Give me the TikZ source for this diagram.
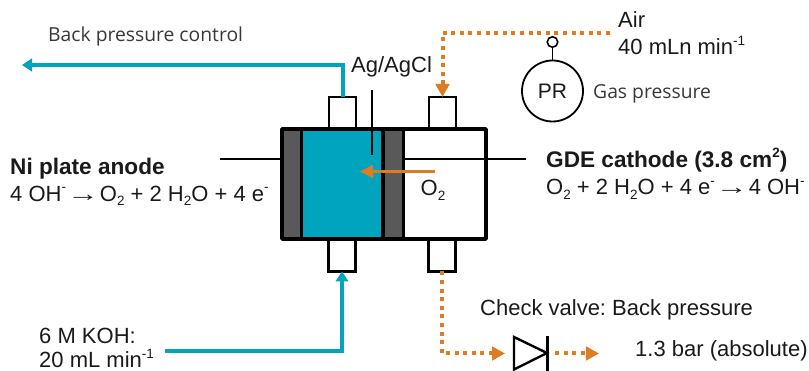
\documentclass[tikz,border=0pt]{standalone}
\usepackage{graphicx}
\usepackage{fontspec}
\setmainfont{Liberation Sans}
\newfontfamily\uifont{Open Sans}
\usetikzlibrary{arrows.meta,calc,shapes.geometric}
\definecolor{tealc}{HTML}{00A5BD}
\definecolor{orangec}{HTML}{DE7C23}
\definecolor{grayc}{HTML}{595959}
\definecolor{txt}{HTML}{1A1A1A}
\newcommand{\sbs}[1]{\raisebox{-0.2em}{\fontsize{13.5}{14}\selectfont #1}}
\newcommand{\sps}[1]{\raisebox{0.45em}{\fontsize{13.5}{14}\selectfont #1}}
\newcommand{\rarr}{\hspace{1pt}\scalebox{1.45}[1]{→}\hspace{1pt}}
\tikzset{
  x=1pt,y=-1pt,
  lbl/.style={inner sep=0pt,anchor=base west,font=\fontsize{22}{24}\selectfont\frenchspacing,text=txt},
  lblb/.style={lbl,font=\fontsize{22.6}{24}\selectfont\bfseries\frenchspacing},
  lblsm/.style={lbl,font=\uifont\fontsize{19.3}{24}\selectfont,text=black!78},
  blk/.style={draw=black,line width=3.6pt,line join=round},
  port/.style={draw=black,line width=2.8pt,fill=white,minimum width=27pt,inner sep=0pt,outer sep=0pt},
  lead/.style={draw=black,line width=1.6pt},
  tealline/.style={draw=tealc,line width=4pt,-{Triangle[length=10pt,width=12.5pt]}},
  orgdot/.style={draw=orangec,line width=4pt,dash pattern=on 4pt off 4.6pt,-{Triangle[length=13pt,width=13.5pt,fill=orangec]}},
}
\begin{document}
\begin{tikzpicture}
\useasboundingbox (0,0) rectangle (809,371);
% cell chambers
\node[draw=none,fill=grayc,minimum width=20pt,minimum height=110pt,inner sep=0pt,outer sep=0pt] (g1) at (291.5,184) {};
\node[draw=none,fill=tealc,minimum width=80pt,minimum height=110pt,inner sep=0pt,outer sep=0pt] (an) at (342,184) {};
\node[draw=none,fill=grayc,minimum width=20pt,minimum height=110pt,inner sep=0pt,outer sep=0pt] (g2) at (393.5,184) {};
% ports
\node[port,minimum height=33pt] (p1) at (342.5,113.5) {};
\node[port,minimum height=33pt] (p2) at (442.5,113.5) {};
\node[port,minimum height=33pt] (p3) at (342,255) {};
\node[port,minimum height=33pt] (p4) at (442,255) {};
% outline
\node[blk,minimum width=204pt,minimum height=110pt,inner sep=0pt,outer sep=0pt] (cell) at (384,184) {};
\coordinate (w1t) at (301.5,129); \coordinate (w1b) at (301.5,239);
\coordinate (w2t) at (383,129);   \coordinate (w2b) at (383,239);
\coordinate (w3t) at (403.5,129); \coordinate (w3b) at (403.5,239);
\draw[blk] (w1t) -- (w1b);
\draw[blk] (w2t) -- (w2b);
\draw[black,line width=2.8pt] (w3t) -- (w3b);
% leads
\coordinate (la) at (220,159); \coordinate (lae) at (282,159);
\coordinate (lc) at (526,159); \coordinate (lce) at (404,159);
\draw[lead] (la) -- (lae);
\draw[lead] (lce) -- (lc);
\coordinate (rt) at (372,90); \coordinate (rb) at (372,155);
\draw[lead] (rt) -- (rb);
% O2 arrow
\coordinate (oa) at (434.5,171.5); \coordinate (ob) at (360,171.5);
\draw[draw=orangec,line width=2.2pt,-{Triangle[length=13pt,width=13pt,fill=orangec]}] (oa) -- (ob);
% teal lines
\coordinate (bp) at (22,65);
\draw[tealline] (p1.north) |- (bp);
\coordinate (koh) at (165,351);
\draw[tealline] (koh) -| (p3.south);
% orange
\coordinate (air) at (610,33);
\draw[orgdot] (air) -| (p2.north);
% PR
\node[draw=black,circle,line width=1.8pt,minimum size=61pt,inner sep=0pt,font=\fontsize{21}{24}\selectfont,text=txt] (pr) at (552.5,91) {PR};
\node[draw=black,circle,line width=1.6pt,minimum size=10.5pt,inner sep=0pt] (sc) at (552.5,42) {};
\draw[lead] (sc) -- (pr);
% valve
\coordinate (v1) at (514,337); \coordinate (v2) at (514,369.5); \coordinate (v3) at (547,353);
\draw[draw=black,line width=2.4pt,line join=miter] (v1) -- (v3) -- (v2) -- cycle;
\coordinate (b1) at (547.5,336); \coordinate (b2) at (547.5,371);
\draw[draw=black,line width=2.4pt] (b1) -- (b2);
\coordinate (vin) at (505,353.5);
\draw[orgdot] (p4.south) |- (vin);
\coordinate (vo) at (555,353.5); \coordinate (ve) at (599,353.5);
\draw[orgdot] (vo) -- (ve);
% labels
\node[lblsm] (t1) at (48,42) {Back pressure control};
\node[lbl] (t2) at (351,73) {Ag/AgCl};
\node[lbl] (t3) at (618,28) {Air};
\node[lbl] (t4) at (618,55) {40 mLn min\sps{-1}};
\node[lblsm] (t5) at (593,99) {Gas pressure};
\node[lblb] (t6) at (10,175) {Ni plate anode};
\node[lbl] (t7) at (10,201.5) {4 OH\sps{-}\rarr O\sbs{2} + 2 H\sbs{2}O + 4 e\sps{-}};
\node[lblb] (t8) at (546,168) {GDE cathode (3.8 cm\sps{2})};
\node[lbl] (t9) at (546,195) {O\sbs{2} + 2 H\sbs{2}O + 4 e\sps{-}\rarr 4 OH\sps{-}};
\node[lbl] (t10) at (420.5,196) {O\sbs{2}};
\node[lbl] (t11) at (480,316) {Check valve: Back pressure};
\node[lbl] (t12) at (635,357) {1.3 bar (absolute)};
\node[lbl] (t13) at (39,344) {6 M KOH:};
\node[lbl] (t14) at (39,368) {20 mL min\sps{-1}};
\end{tikzpicture}
\end{document}
